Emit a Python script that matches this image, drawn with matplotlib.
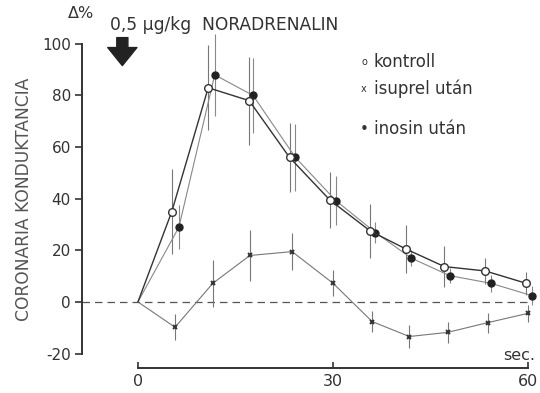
import matplotlib.pyplot as plt

# idő (sec) és változás (%) – kontroll
t_kontroll = [0, 5.2, 10.8, 17.1, 23.3, 29.5, 35.7, 41.2, 47.1, 53.4, 59.7]
y_kontroll = [0, 35, 83, 78, 56, 39.5, 27.5, 20.5, 13.7, 12, 7.2]
e_kontroll = [0, 16.5, 16.5, 17, 13.5, 11, 10.6, 9.2, 8, 5, 4.4]

# isuprel után
t_isuprel = [0, 5.7, 11.5, 17.2, 23.7, 30, 36, 41.7, 47.6, 53.8, 60]
y_isuprel = [0, -9.8, 7.2, 18, 19.5, 7.2, -7.6, -13.4, -11.8, -8, -4.4]
e_isuprel = [0, 5, 9, 9.7, 7.3, 5, 4, 4.5, 4.2, 3.9, 3.2]

# inosin után
t_inosin = [0, 6.3, 11.8, 17.7, 24.2, 30.4, 36.5, 42, 47.9, 54.3, 60.6]
y_inosin = [0, 29, 88, 80, 56, 39.3, 26.9, 17, 10.2, 7.2, 2.4]
e_inosin = [0, 8.5, 16, 14.5, 13, 9.5, 4, 3, 3, 3.3, 3.6]

x_ticks = [0, 30, 60]
y_ticks = [-20, 0, 20, 40, 60, 80, 100]

W, H = 540, 393
fig = plt.figure(figsize=(5.4, 3.93), dpi=100)
ax = fig.add_axes([82 / W, 25 / H, 1 - 82 / W, 1 - 25 / H])
ax.set_xlim(-8.6, 61.8)
ax.set_ylim(-25.6, 117)

# nulla szint
ax.hlines(0, -8.6, 60, colors='#555555', linestyles=(0, (6, 4)), linewidth=0.9)

# hibasávok
ax.errorbar(t_kontroll, y_kontroll, yerr=e_kontroll, fmt='none', ecolor='#777777', elinewidth=0.8)
ax.errorbar(t_inosin, y_inosin, yerr=e_inosin, fmt='none', ecolor='#888888', elinewidth=0.8)
ax.errorbar(t_isuprel, y_isuprel, yerr=e_isuprel, fmt='none', ecolor='#777777', elinewidth=0.8)

# görbék
ax.plot(t_inosin, y_inosin, color='#888888', linewidth=0.8, zorder=3)
ax.plot(t_inosin[1:], y_inosin[1:], 'o', color='#222222', markersize=5, linestyle='none', zorder=4)
ax.plot(t_isuprel, y_isuprel, color='#777777', linewidth=0.8, zorder=3)
ax.plot(t_isuprel[1:], y_isuprel[1:], 'x', color='#333333', markersize=3.5, markeredgewidth=1.4,
        linestyle='none', zorder=4)
ax.plot(t_kontroll, y_kontroll, color='#333333', linewidth=1.0, zorder=5)
ax.plot(t_kontroll[1:], y_kontroll[1:], 'o', markerfacecolor='white', markeredgecolor='#333333',
        markersize=5.5, markeredgewidth=1.0, linestyle='none', zorder=6)

# tengelyek
for s in ['top', 'right']:
    ax.spines[s].set_visible(False)
ax.spines['left'].set_bounds(-20, 100)
ax.spines['bottom'].set_bounds(0, 60)
ax.spines['left'].set_linewidth(1.4)
ax.spines['bottom'].set_linewidth(1.4)
ax.spines['left'].set_color('#333333')
ax.spines['bottom'].set_color('#333333')
ax.set_yticks(y_ticks)
ax.set_yticklabels(['-20', '0', '20', '40', '60', '80', '100'])
ax.set_xticks(x_ticks)
ax.tick_params(axis='y', direction='out', length=5, width=1.2, pad=3, labelsize=11, colors='#333333')
ax.tick_params(axis='x', direction='in', length=4, width=1.2, pad=4, labelsize=11.5, colors='#333333')
ax.patch.set_visible(False)

fig.text(24 / W, 1 - 199 / H, 'CORONARIA KONDUKTANCIA', rotation=90, ha='center', va='center',
         fontsize=12.3, color='#555555')
fig.text(81 / W, 1 - 13 / H, 'Δ%', ha='center', va='center', fontsize=11.5, color='#333333')
fig.text(110 / W, 1 - 25 / H, '0,5 μg/kg  NORADRENALIN', ha='left', va='center', fontsize=12.3,
         color='#333333')
fig.text(535 / W, 1 - 356 / H, 'sec.', ha='right', va='center', fontsize=11.5, color='#333333')

# nyíl
ax.annotate('', xy=(-2.4, 90.5), xytext=(-2.4, 103.5),
            arrowprops=dict(arrowstyle='simple,head_length=1.3,head_width=2.1,tail_width=0.8',
                            mutation_scale=10, fc='#222222', ec='#222222'))

# jelmagyarázat
legend_items = [('o', 'kontroll', 62), ('x', 'isuprel után', 89), ('•', 'inosin után', 129)]
for sym, lab, yp in legend_items:
    fig.text(364 / W, 1 - yp / H, sym, ha='center', va='center', fontsize=7 if sym != '•' else 11,
             color='#333333')
    fig.text(374 / W, 1 - yp / H, lab, ha='left', va='center', fontsize=12, color='#333333')

fig.savefig('out.png', dpi=100)
